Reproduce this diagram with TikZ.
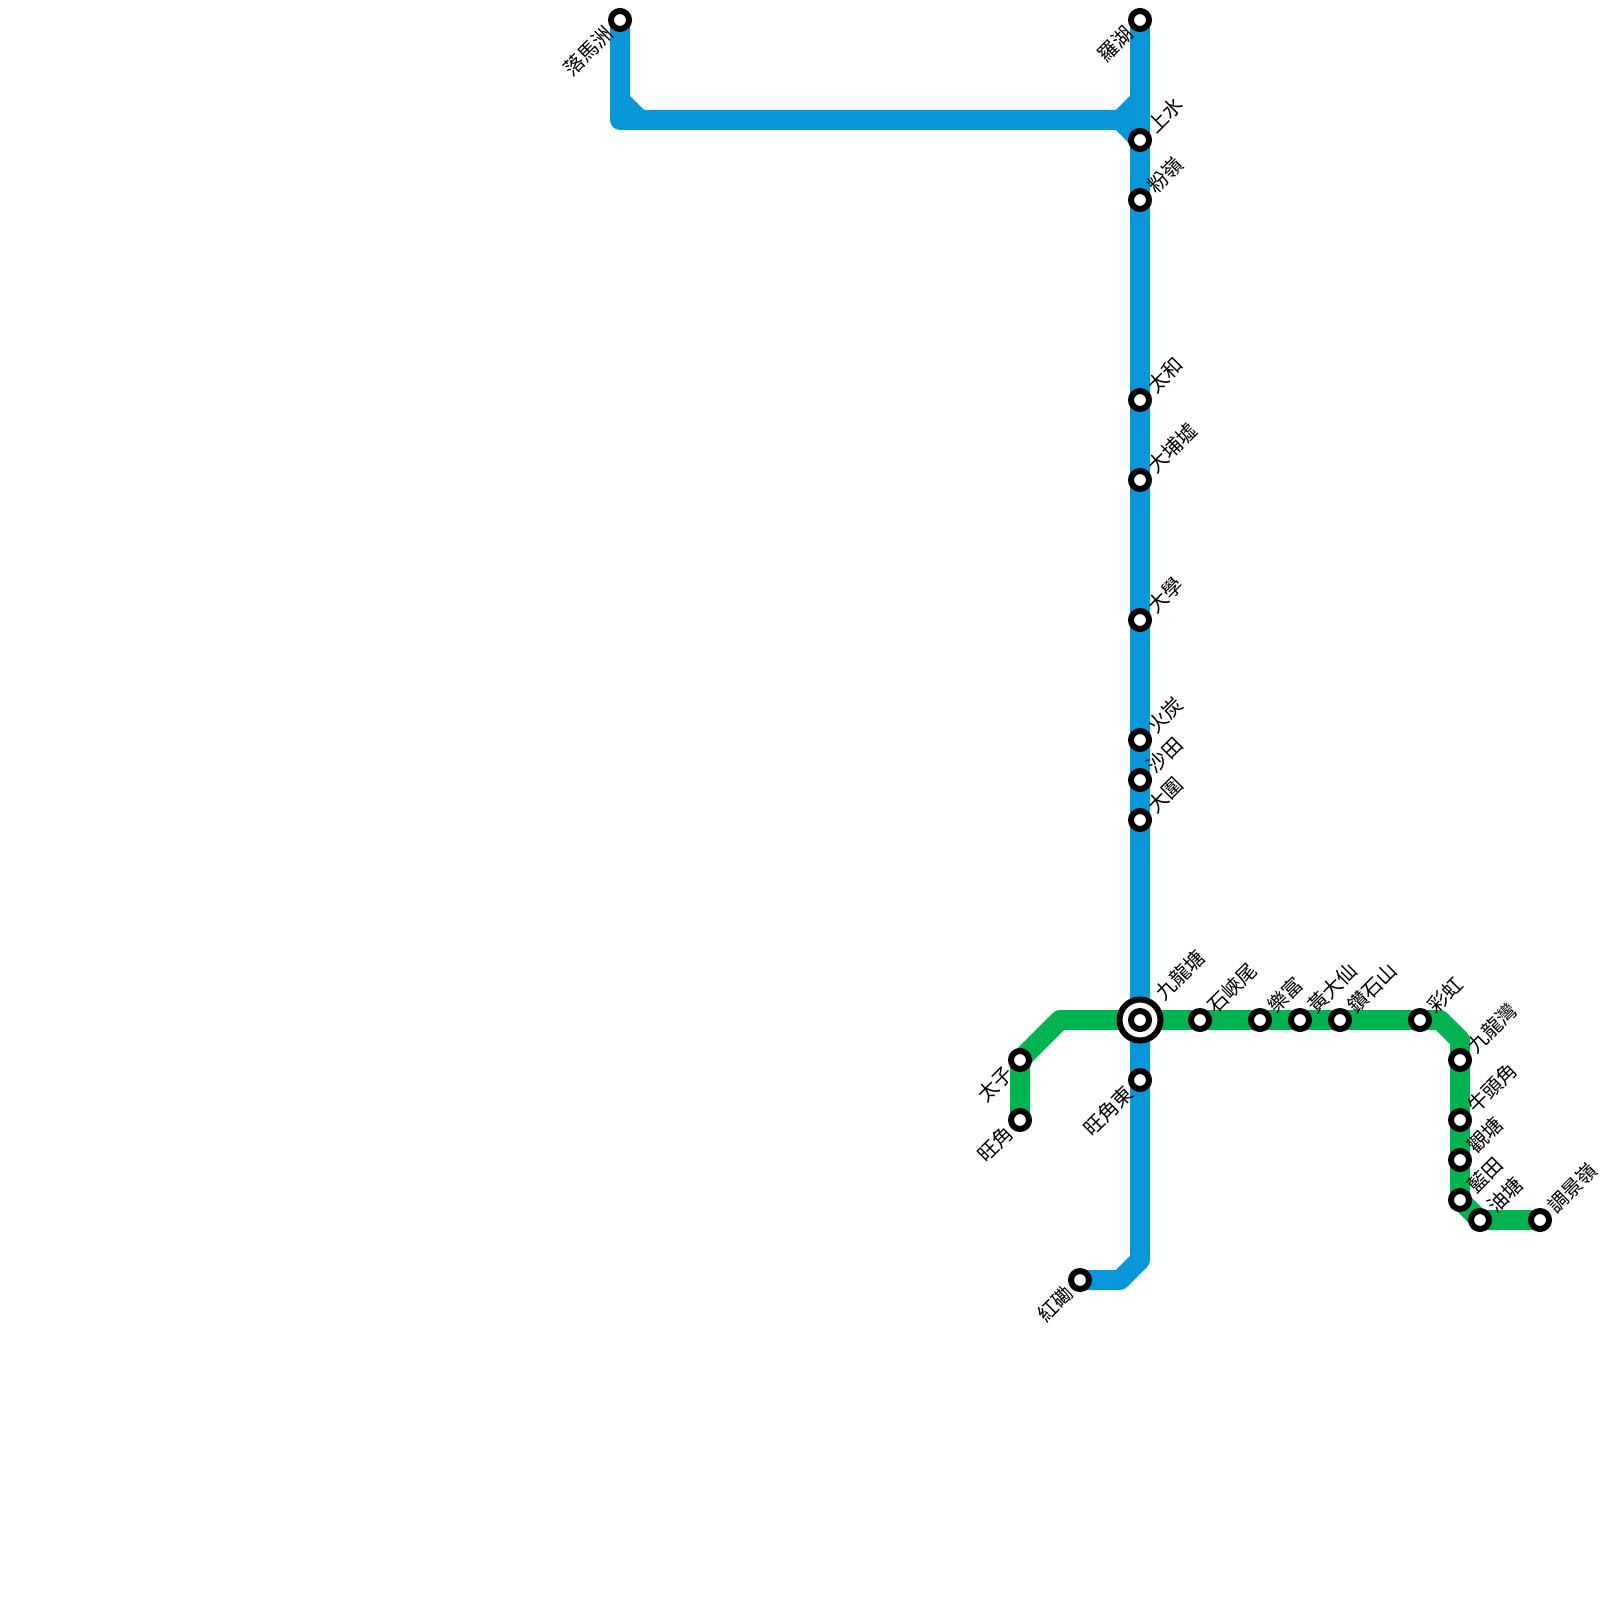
\documentclass[tikz,border=0pt]{standalone}
\usepackage{xcolor}
\usepackage{fontspec}
\usepackage{tikz}
\usetikzlibrary{backgrounds}
\setmainfont{Noto Sans CJK TC}
\definecolor{eastblue}{RGB}{9,151,217}
\definecolor{kwuntonggreen}{RGB}{0,178,80}
\tikzset{
  stn/.style={circle, draw=black, fill=white, line width=3pt, minimum size=9pt,
              inner sep=0pt, outer sep=0pt},
  hub/.style={circle, draw=black, fill=white, line width=3pt, minimum size=20.5pt,
              inner sep=0pt, outer sep=0pt},
  nameright/.style={rotate=45, anchor=west, font=\fontsize{10pt}{11pt}\selectfont,
                    inner sep=0pt, label distance=3.5pt, xshift=0.35pt, yshift=-2.5pt},
  nameleft/.style={rotate=45, anchor=north east, font=\fontsize{10pt}{11pt}\selectfont,
                   inner sep=0pt, label distance=0pt, xshift=-3.9pt, yshift=1.8pt},
  eastline/.style={draw=eastblue, line width=10pt, line join=round},
  greenline/.style={draw=kwuntonggreen, line width=10pt, line join=round}
}
\begin{document}
\begin{tikzpicture}[x=0.5pt, y=-0.5pt]
  \useasboundingbox (0,0) rectangle (1600,1600);
  % bends
  \coordinate (lmcdrop) at (620,100);
  \coordinate (lmccorner) at (620,120);
  \coordinate (lmcjoin) at (640,120);
  \coordinate (lwjoin) at (1120,120);
  \coordinate (lwup) at (1140,100);
  \coordinate (sbend) at (1140,1260);
  \coordinate (wkbend) at (1120,1280);
  \coordinate (peblock) at (1060,1020);
  \coordinate (kbbend) at (1440,1020);
  \coordinate (kbdrop) at (1460,1040);
  % east rail
  \node[stn, label={[nameleft]180:落馬洲}] (lokmachau) at (620,20) {};
  \node[stn, label={[nameleft]180:羅湖}] (lowu) at (1140,20) {};
  \node[stn, label={[nameright]45:上水}] (sheungshui) at (1140,140) {};
  \node[stn, label={[nameright]45:粉嶺}] (fanling) at (1140,200) {};
  \node[stn, label={[nameright]45:太和}] (taiwo) at (1140,400) {};
  \node[stn, label={[nameright]45:大埔墟}] (taipo) at (1140,480) {};
  \node[stn, label={[nameright]45:大學}] (university) at (1140,620) {};
  \node[stn, label={[nameright]45:火炭}] (fotan) at (1140,740) {};
  \node[stn, label={[nameright]45:沙田}] (shatin) at (1140,780) {};
  \node[stn, label={[nameright]45:大圍}] (taiwai) at (1140,820) {};
  \node[stn, label={[nameleft]180:旺角東}] (mongkokeast) at (1140,1080) {};
  \node[stn, label={[nameleft]180:紅磡}] (hunghom) at (1080,1280) {};
  % kwun tong line
  \node[stn, label={[nameleft]180:太子}] (princeedward) at (1020,1060) {};
  \node[stn, label={[nameleft]180:旺角}] (mongkok) at (1020,1120) {};
  \node[hub, label={[nameright, xshift=1.75pt, yshift=1.7pt]45:九龍塘}] (kowloontonghub) at (1140,1020) {};
  \node[stn] (kowloontong) at (1140,1020) {};
  \node[stn, label={[nameright]45:石峽尾}] (shekkipmei) at (1200,1020) {};
  \node[stn, label={[nameright]45:樂富}] (lokfu) at (1260,1020) {};
  \node[stn, label={[nameright]45:黃大仙}] (wongtaisin) at (1300,1020) {};
  \node[stn, label={[nameright]45:鑽石山}] (diamondhill) at (1340,1020) {};
  \node[stn, label={[nameright]45:彩虹}] (choihung) at (1420,1020) {};
  \node[stn, label={[nameright]45:九龍灣}] (kowloonbay) at (1460,1060) {};
  \node[stn, label={[nameright]45:牛頭角}] (ngautaukok) at (1460,1120) {};
  \node[stn, label={[nameright]45:觀塘}] (kwuntong) at (1460,1160) {};
  \node[stn, label={[nameright]45:藍田}] (lamtin) at (1460,1200) {};
  \node[stn, label={[nameright]45:油塘}] (yautong) at (1480,1220) {};
  \node[stn, label={[nameright]45:調景嶺}] (tiukengleng) at (1540,1220) {};
  \begin{scope}[on background layer]
    \draw[greenline] (mongkok.center) -- (princeedward.center) -- (peblock)
      -- (kowloontong.center) -- (choihung.center) -- (kbbend) -- (kbdrop)
      -- (lamtin.center) -- (yautong.center) -- (tiukengleng.center);
    \draw[eastline] (lokmachau.center) -- (lmccorner) -- (lwjoin) -- (sheungshui.center);
    \draw[eastline] (lmcdrop) -- (lmcjoin);
    \draw[eastline] (lwjoin) -- (lwup);
    \draw[eastline] (lowu.center) -- (sbend) -- (wkbend) -- (hunghom.center);
  \end{scope}
\end{tikzpicture}
\end{document}
